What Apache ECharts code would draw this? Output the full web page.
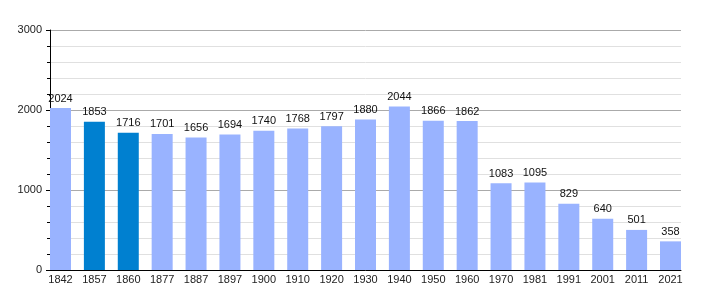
<!DOCTYPE html>
<html><head><meta charset="utf-8">
<script src="https://cdn.jsdelivr.net/npm/echarts@6/dist/echarts.min.js"></script>
<style>html,body{margin:0;padding:0;background:#fff}#c{width:710px;height:300px}</style>
</head><body><div id="c"></div>
<script>
var years = ['1842','1857','1860','1877','1887','1897','1900','1910','1920','1930','1940','1950','1960','1970','1981','1991','2001','2011','2021'];
var population = [2024,1853,1716,1701,1656,1694,1740,1768,1797,1880,2044,1866,1862,1083,1095,829,640,501,358];
var highlighted = ['1857','1860'];
var yTicks = [0,1000,2000,3000];

var chart = echarts.init(document.getElementById('c'), null, {renderer:'canvas'});
var font = 'Liberation Sans, Arial, sans-serif';
chart.setOption({
  animation:false,
  grid:[
    {left:50, right:29, top:30, bottom:30, containLabel:false},
    {left:60.5, right:39.5, top:30, bottom:30, containLabel:false}
  ],
  xAxis:[
    {gridIndex:0, type:'category', data:years, boundaryGap:true,
     axisLine:{lineStyle:{color:'#000', width:1}}, axisTick:{show:false}, axisLabel:{show:false}, splitLine:{show:false}},
    {gridIndex:1, type:'category', data:years, boundaryGap:false,
     axisLine:{show:false}, axisTick:{show:false},
     axisLabel:{interval:0, color:'#222', fontSize:11, fontFamily:font, margin:4}}
  ],
  yAxis:[
    {gridIndex:0, type:'value', min:yTicks[0], max:yTicks[yTicks.length-1], interval:1000,
     axisLine:{show:true, lineStyle:{color:'#000'}},
     axisTick:{show:true, length:4, lineStyle:{color:'#000'}},
     minorTick:{show:true, splitNumber:5, length:3, lineStyle:{color:'#000'}},
     axisLabel:{color:'#222', fontSize:11, fontFamily:font, margin:8, formatter:function(v){return String(v);}},
     splitLine:{show:true, lineStyle:{color:'#aaa', width:1}},
     minorSplitLine:{show:true, lineStyle:{color:'#e0e0e0', width:1}}},
    {gridIndex:1, type:'value', min:0, max:3000, show:false, splitLine:{show:false}}
  ],
  series:[{
    type:'bar', xAxisIndex:1, yAxisIndex:1, barWidth:21,
    data: population.map(function(v,i){
      return {value:v, itemStyle:{color: highlighted.indexOf(years[i])>=0 ? '#0080d0' : '#99b3ff'}};
    }),
    label:{show:true, position:'top', distance:4, color:'#111', fontSize:11, fontFamily:font}
  }]
});
</script></body></html>
